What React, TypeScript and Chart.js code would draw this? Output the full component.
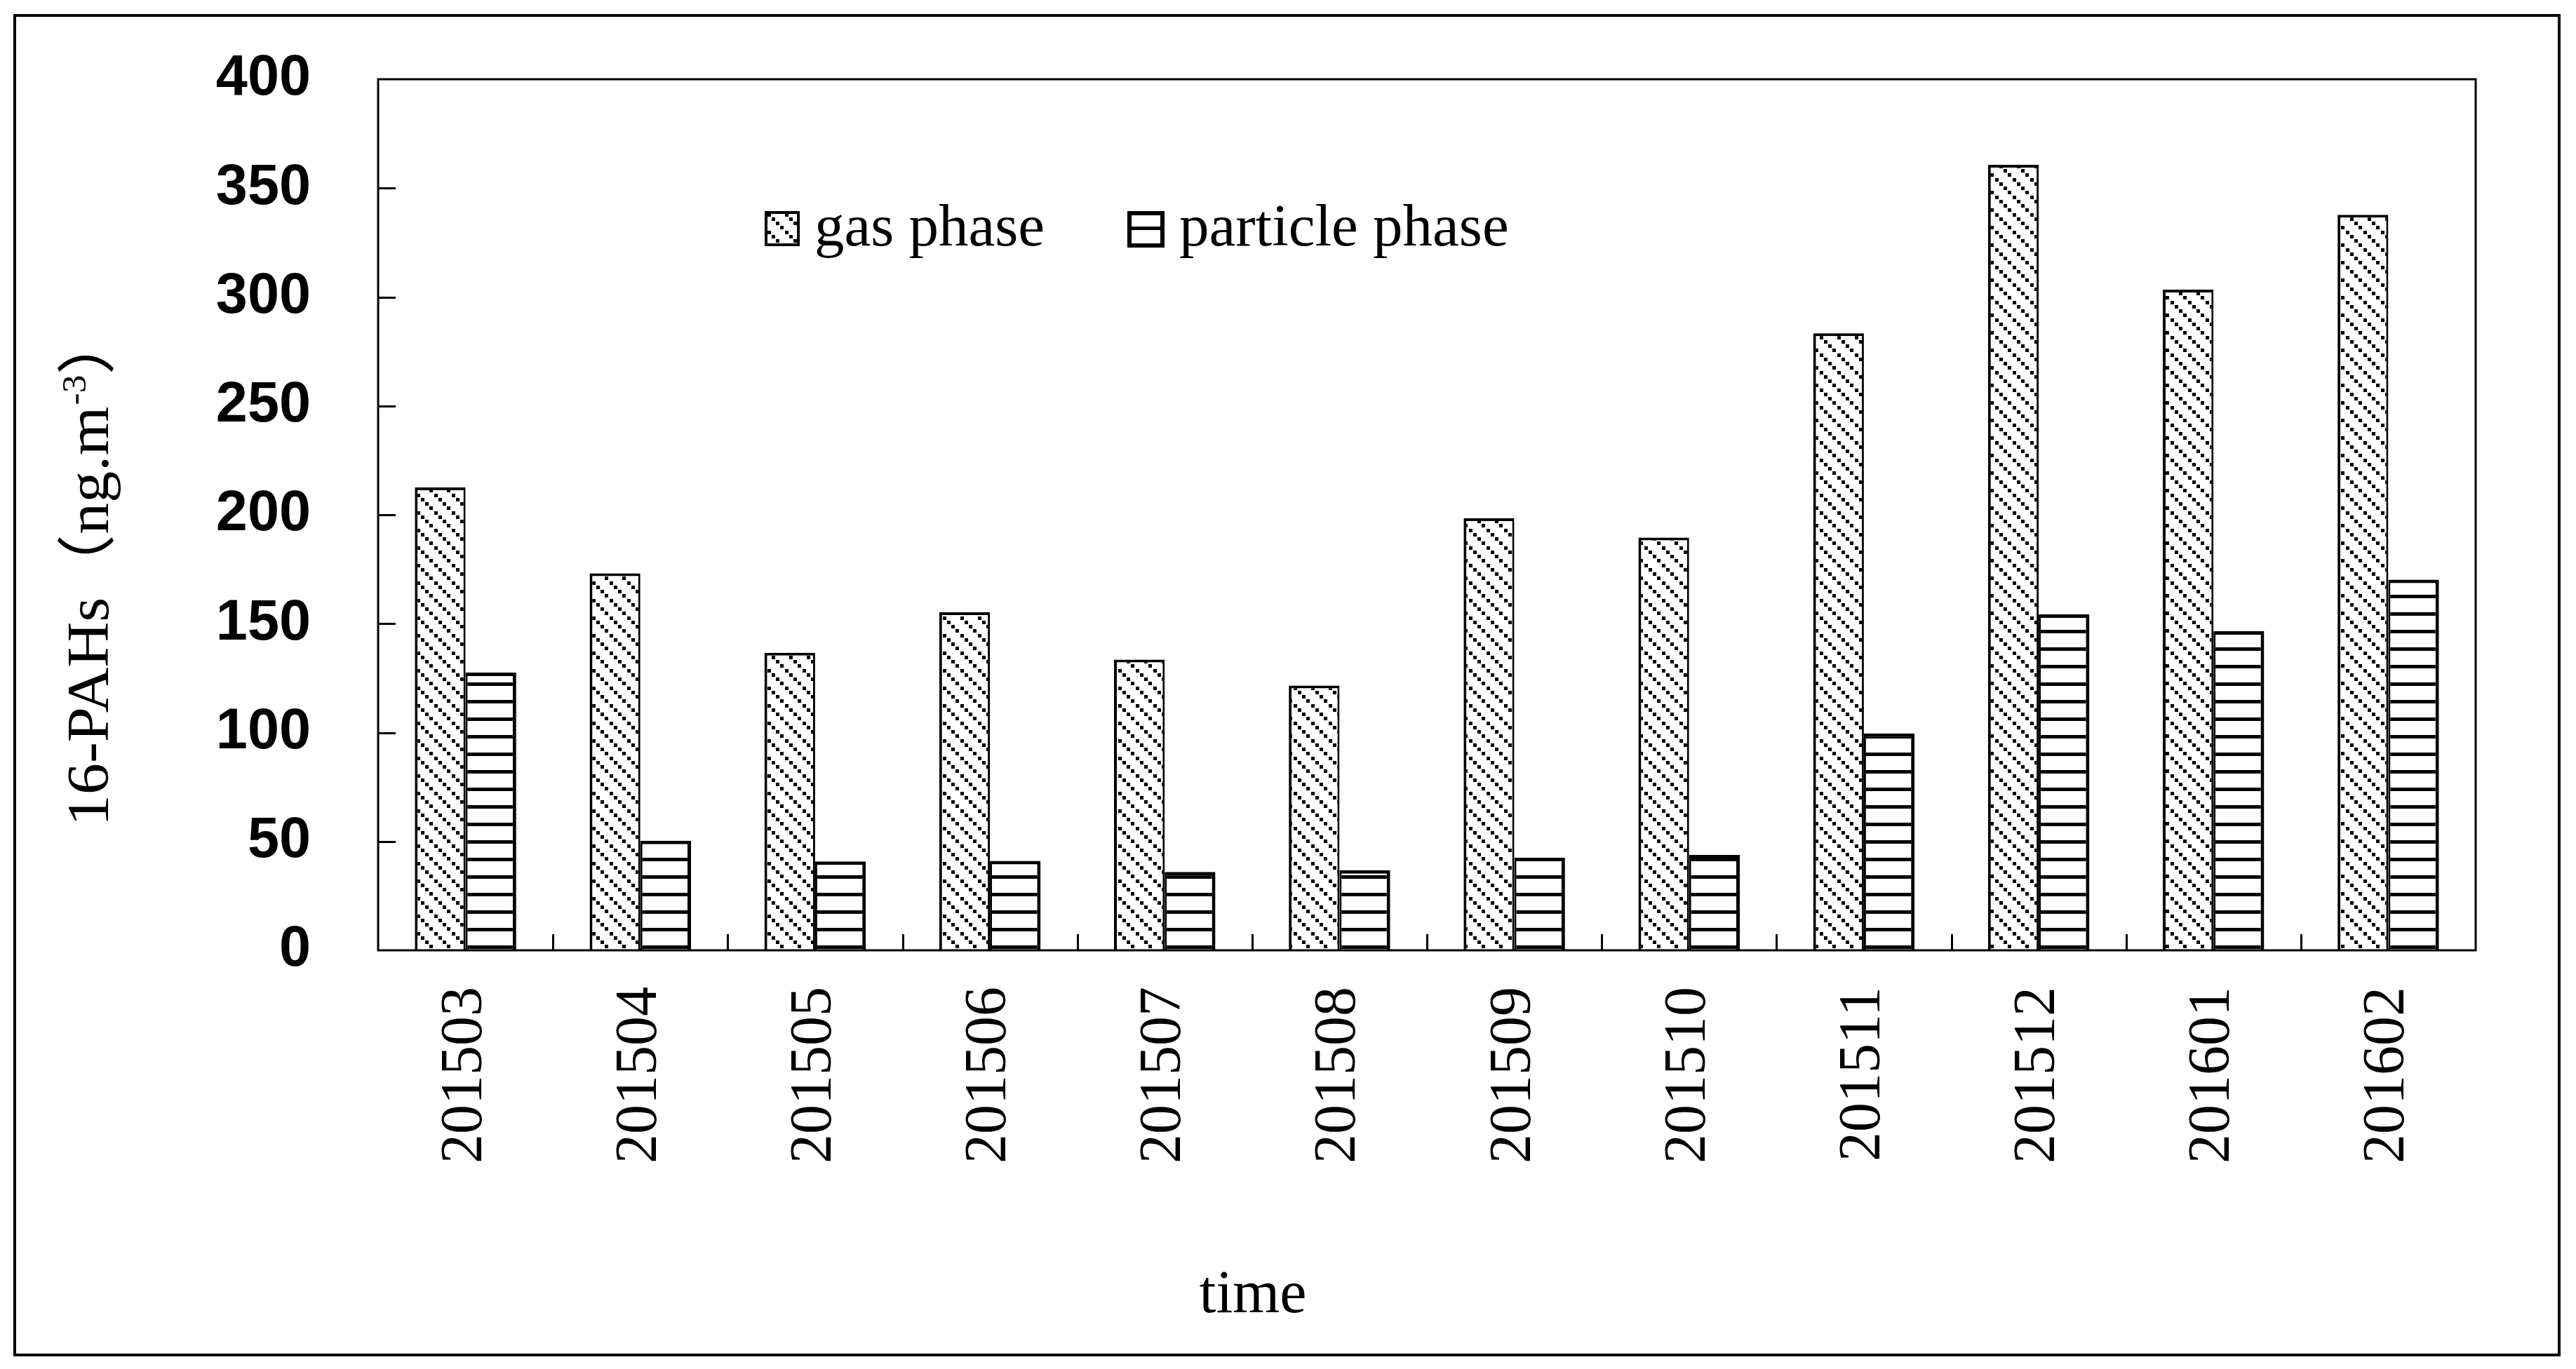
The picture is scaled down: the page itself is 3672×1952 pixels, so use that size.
import React, { useEffect, useRef } from "react";
import { Chart, registerables } from "chart.js";

Chart.register(...registerables);

// ---------- data ----------
const categories = ["201503", "201504", "201505", "201506", "201507", "201508", "201509", "201510", "201511", "201512", "201601", "201602"];
const gasPhase = [212.6, 173.1, 136.6, 155.2, 133.5, 121.6, 198.4, 189.5, 283.3, 360.7, 303.4, 337.8];
const particlePhase = [127.5, 50.3, 40.8, 41.1, 36.0, 36.8, 42.5, 43.8, 99.6, 154.3, 146.5, 170.2];
const seriesLabels = ["gas phase", "particle phase"];
const yMin = 0;
const yMax = 400;
const yStep = 50;
const yTitleMain = "16-PAHs（ng.m";
const yTitleSup = "-3";
const yTitleEnd = "）";
const xTitle = "time";

const W = 3672;
const H = 1952;
const SERIF = '"Liberation Serif", "Noto Sans CJK SC", serif';

function makeGasPattern(): CanvasPattern | string {
  const t = document.createElement("canvas");
  t.width = 25;
  t.height = 25;
  const c = t.getContext("2d");
  if (!c) return "#ccc";
  c.fillStyle = "#fff";
  c.fillRect(0, 0, 25, 25);
  c.fillStyle = "#000";
  const xs = [0, 6, 12, 19];
  for (const sx of xs) {
    const sy = (sx + 10) % 25;
    c.fillRect(sx, sy, 5, 5);
    if (sy + 5 > 25) c.fillRect(sx, sy - 25, 5, 5);
  }
  const p = c.createPattern(t, "repeat");
  return p || "#ccc";
}

function makeParticlePattern(): CanvasPattern | string {
  const t = document.createElement("canvas");
  t.width = 25;
  t.height = 25;
  const c = t.getContext("2d");
  if (!c) return "#888";
  c.fillStyle = "#fff";
  c.fillRect(0, 0, 25, 25);
  c.fillStyle = "#000";
  c.fillRect(0, 23, 25, 2);
  c.fillRect(0, 0, 25, 3);
  const p = c.createPattern(t, "repeat");
  return p || "#888";
}

const decorPlugin = {
  id: "decor",
  afterDraw(chart: any) {
    const ctx: CanvasRenderingContext2D = chart.ctx;
    const ca = chart.chartArea;
    const xs = chart.scales.x;
    const ys = chart.scales.y;
    ctx.save();
    ctx.strokeStyle = "#000";
    ctx.fillStyle = "#000";

    // outer frame
    ctx.lineWidth = 4;
    ctx.strokeRect(21, 22, 3627, 1910);

    // plot area border
    ctx.lineWidth = 3;
    ctx.strokeRect(ca.left, ca.top, ca.right - ca.left, ca.bottom - ca.top);

    // inward tick marks
    ctx.lineWidth = 3;
    ctx.beginPath();
    for (let v = yMin + yStep; v < yMax; v += yStep) {
      const y = Math.round(ys.getPixelForValue(v)) + 0.5;
      ctx.moveTo(ca.left, y);
      ctx.lineTo(ca.left + 25, y);
    }
    for (let i = 1; i < categories.length; i++) {
      const x = Math.round((xs.getPixelForValue(i - 1) + xs.getPixelForValue(i)) / 2) + 0.5;
      ctx.moveTo(x, ca.bottom);
      ctx.lineTo(x, ca.bottom - 23);
    }
    ctx.stroke();

    // legend
    const ds = chart.data.datasets;
    const legendItems = [
      { bx: 1090, by: 301, bw: 50, bh: 50, lw: 4, tx: 1161 },
      { bx: 1607, by: 301, bw: 53, bh: 52, lw: 6, tx: 1681 },
    ];
    legendItems.forEach((it, i) => {
      ctx.fillStyle = ds[i].backgroundColor;
      ctx.fillRect(it.bx, it.by, it.bw, it.bh);
      ctx.lineWidth = it.lw;
      ctx.strokeStyle = "#000";
      ctx.strokeRect(it.bx + it.lw / 2, it.by + it.lw / 2, it.bw - it.lw, it.bh - it.lw);
      ctx.fillStyle = "#000";
      ctx.font = `85px ${SERIF}`;
      ctx.textAlign = "left";
      ctx.textBaseline = "alphabetic";
      ctx.fillText(ds[i].label, it.tx, 350);
    });

    // x title
    ctx.fillStyle = "#000";
    ctx.font = `86px ${SERIF}`;
    ctx.textAlign = "center";
    ctx.textBaseline = "alphabetic";
    ctx.fillText(xTitle, 1786, 1871);

    // y title (rotated, with superscript)
    ctx.save();
    ctx.translate(154, 1178);
    ctx.rotate(-Math.PI / 2);
    ctx.scale(1.07, 1);
    ctx.textAlign = "left";
    ctx.textBaseline = "alphabetic";
    const mainFont = `84px ${SERIF}`;
    ctx.font = mainFont;
    let px = 0;
    ctx.fillText(yTitleMain, px, 0);
    px += ctx.measureText(yTitleMain).width;
    ctx.font = `48px ${SERIF}`;
    ctx.fillText(yTitleSup, px + 2, -32);
    px += ctx.measureText(yTitleSup).width + 2;
    ctx.font = mainFont;
    ctx.fillText(yTitleEnd, px, 0);
    ctx.restore();

    ctx.restore();
  },
};

export default function App() {
  const ref = useRef<HTMLCanvasElement | null>(null);

  useEffect(() => {
    const canvas = ref.current;
    if (!canvas) return;
    const chart = new Chart(canvas, {
      type: "bar",
      data: {
        labels: categories,
        datasets: [
          {
            label: seriesLabels[0],
            data: gasPhase,
            backgroundColor: makeGasPattern() as any,
            borderColor: "#000",
            borderWidth: { left: 4, right: 3, top: 4, bottom: 0 } as any,
            borderSkipped: false as any,
            categoryPercentage: 0.58,
            barPercentage: 1.0,
          },
          {
            label: seriesLabels[1],
            data: particlePhase,
            backgroundColor: makeParticlePattern() as any,
            borderColor: "#000",
            borderWidth: { left: 3, right: 5, top: 5, bottom: 0 } as any,
            borderSkipped: false as any,
            categoryPercentage: 0.58,
            barPercentage: 1.0,
          },
        ],
      },
      options: {
        responsive: false,
        animation: false,
        devicePixelRatio: 1,
        layout: { padding: { left: 139, right: 143, top: 113, bottom: 0 } },
        plugins: {
          legend: { display: false },
          tooltip: { enabled: false },
          title: { display: false },
        },
        scales: {
          x: {
            type: "category",
            grid: { display: false, drawTicks: false },
            border: { display: false },
            ticks: {
              color: "#000",
              font: { family: SERIF, size: 84 },
              minRotation: 90,
              maxRotation: 90,
              autoSkip: false,
              padding: 52,
            },
            afterFit: (s: any) => {
              s.height = 597;
              s.paddingLeft = 0;
              s.paddingRight = 0;
            },
          },
          y: {
            type: "linear",
            min: yMin,
            max: yMax,
            grid: { display: false, drawTicks: false },
            border: { display: false },
            ticks: {
              stepSize: yStep,
              color: "#000",
              font: { family: '"Liberation Sans", Arial, sans-serif', size: 81, weight: "bold" },
              padding: 96,
            },
            afterFit: (s: any) => {
              s.width = 400;
              s.paddingTop = 0;
              s.paddingBottom = 0;
            },
          },
        },
      },
      plugins: [decorPlugin],
    });
    return () => chart.destroy();
  }, []);

  return (
    <div style={{ position: "absolute", left: 0, top: 0, width: W, height: H, background: "#fff" }}>
      <canvas ref={ref} width={W} height={H} style={{ width: W, height: H, display: "block" }} />
    </div>
  );
}
